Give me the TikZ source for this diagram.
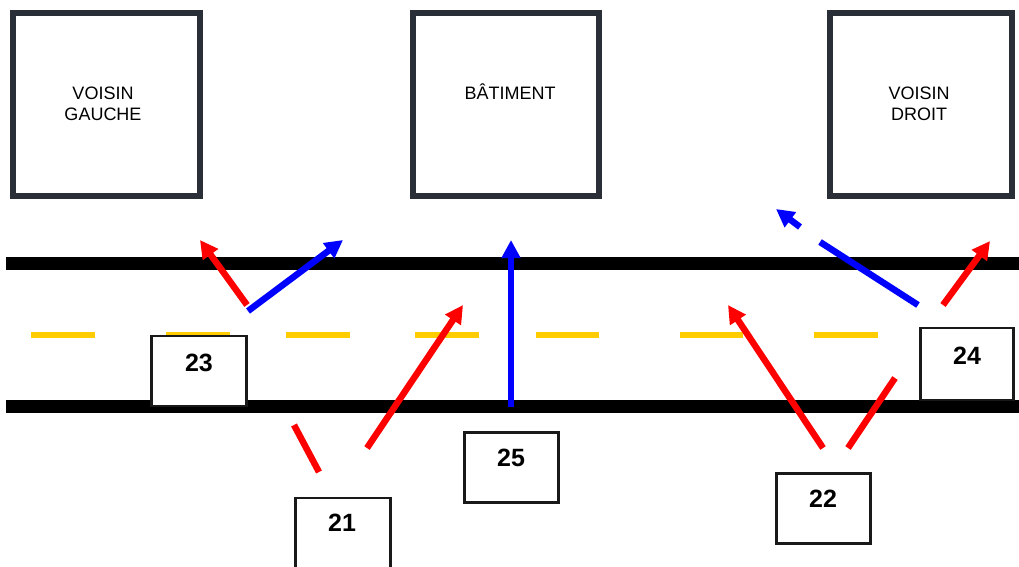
\documentclass[tikz,border=0pt]{standalone}
\usepackage{fontspec}
\setmainfont{Liberation Sans}
\usetikzlibrary{arrows.meta}
\definecolor{bordercol}{RGB}{42,46,54}
\definecolor{roadyellow}{RGB}{255,204,0}
\definecolor{arrred}{RGB}{255,0,0}
\definecolor{arrblue}{RGB}{0,0,255}
\tikzset{
  bldg/.style={draw=bordercol, line width=6.5pt, fill=white, inner sep=0pt, rectangle},
  bldglabel/.style={font=\fontsize{18}{21}\selectfont, align=center, inner sep=0pt, text=black},
  numbox/.style={draw=black!90, line width=2.6pt, fill=white, inner sep=0pt, rectangle},
  numlabel/.style={font=\fontsize{25}{30}\selectfont\bfseries, inner sep=0pt, text=black},
  roadline/.style={line width=13pt, draw=black},
  centreline/.style={line width=6pt, draw=roadyellow},
  redarrow/.style={line width=6.5pt, draw=arrred, -{Triangle[length=18pt,width=18pt]}, arrred},
  bluearrow/.style={line width=6.5pt, draw=arrblue, -{Triangle[length=18pt,width=18pt]}, arrblue},
  redseg/.style={line width=6.5pt, draw=arrred},
  blueseg/.style={line width=6.5pt, draw=arrblue},
}
\begin{document}
\begin{tikzpicture}[x=1pt,y=-1pt]
\useasboundingbox (0,0) rectangle (1019,566);
\fill[white] (0,0) rectangle (1019,566);

% buildings
\node[bldg, minimum width=187pt, minimum height=183pt] (vg) at (106.5,104.5) {};
\node[bldg, minimum width=186pt, minimum height=183pt] (bat) at (506,104.5) {};
\node[bldg, minimum width=182pt, minimum height=183pt] (vd) at (921,104.5) {};
\node[bldglabel] (vgl) at (103,103.5) {VOISIN\\GAUCHE};
\node[bldglabel, anchor=base] (batl) at (510,99.5) {BÂTIMENT};
\node[bldglabel] (vdl) at (919,103.5) {VOISIN\\DROIT};

% road
\coordinate (rt1) at (6,263.5);
\coordinate (rt2) at (1019,263.5);
\coordinate (rb1) at (6,406.5);
\coordinate (rb2) at (1019,406.5);
\draw[roadline] (rt1) -- (rt2);
\draw[roadline] (rb1) -- (rb2);

% centre line dashes
\foreach \a/\b [count=\i] in {31/95,166/230,286/350,415/479,536/599,680/743,814/878}{
  \coordinate (d\i a) at (\a,335);
  \coordinate (d\i b) at (\b,335);
  \draw[centreline] (d\i a) -- (d\i b);
}

% number boxes
\node[numbox, minimum width=95.4pt, minimum height=70pt] (b23) at (199,371) {};
\node[numbox, minimum width=93.4pt, minimum height=72pt] (b24) at (967,364) {};
\node[numbox, minimum width=94.4pt, minimum height=70.4pt] (b25) at (511.5,467.5) {};
\node[numbox, minimum width=95.4pt, minimum height=77pt] (b21) at (343,536.6) {};
\node[numbox, minimum width=94.4pt, minimum height=70.4pt] (b22) at (823.5,508.5) {};
\node[numlabel] (l23) at (199,362.5) {23};
\node[numlabel] (l24) at (967,356) {24};
\node[numlabel] (l25) at (511,458) {25};
\node[numlabel] (l21) at (342,523) {21};
\node[numlabel] (l22) at (823,499) {22};

% arrow end points
\coordinate (a1s) at (247,305);   \coordinate (a1e) at (200,240);
\coordinate (b1s) at (248,311);   \coordinate (b1e) at (343,240);
\coordinate (a2s) at (367,448);   \coordinate (a2e) at (463,305);
\coordinate (s1s) at (319,472);   \coordinate (s1e) at (294,425);
\coordinate (b2s) at (511,407);   \coordinate (b2e) at (511,240);
\coordinate (a3s) at (823,448);   \coordinate (a3e) at (728,305);
\coordinate (s2s) at (848,448);   \coordinate (s2e) at (895,378);
\coordinate (a4s) at (943,305);   \coordinate (a4e) at (990,241);
\coordinate (b3s) at (918,305);   \coordinate (b3e) at (820,242);
\coordinate (b4s) at (800,227);   \coordinate (b4e) at (776,209);

\draw[redarrow] (a1s) -- (a1e);
\draw[bluearrow] (b1s) -- (b1e);
\draw[redarrow] (a2s) -- (a2e);
\draw[redseg] (s1s) -- (s1e);
\draw[bluearrow] (b2s) -- (b2e);
\draw[redarrow] (a3s) -- (a3e);
\draw[redseg] (s2s) -- (s2e);
\draw[redarrow] (a4s) -- (a4e);
\draw[blueseg] (b3s) -- (b3e);
\draw[bluearrow] (b4s) -- (b4e);
\end{tikzpicture}
\end{document}
